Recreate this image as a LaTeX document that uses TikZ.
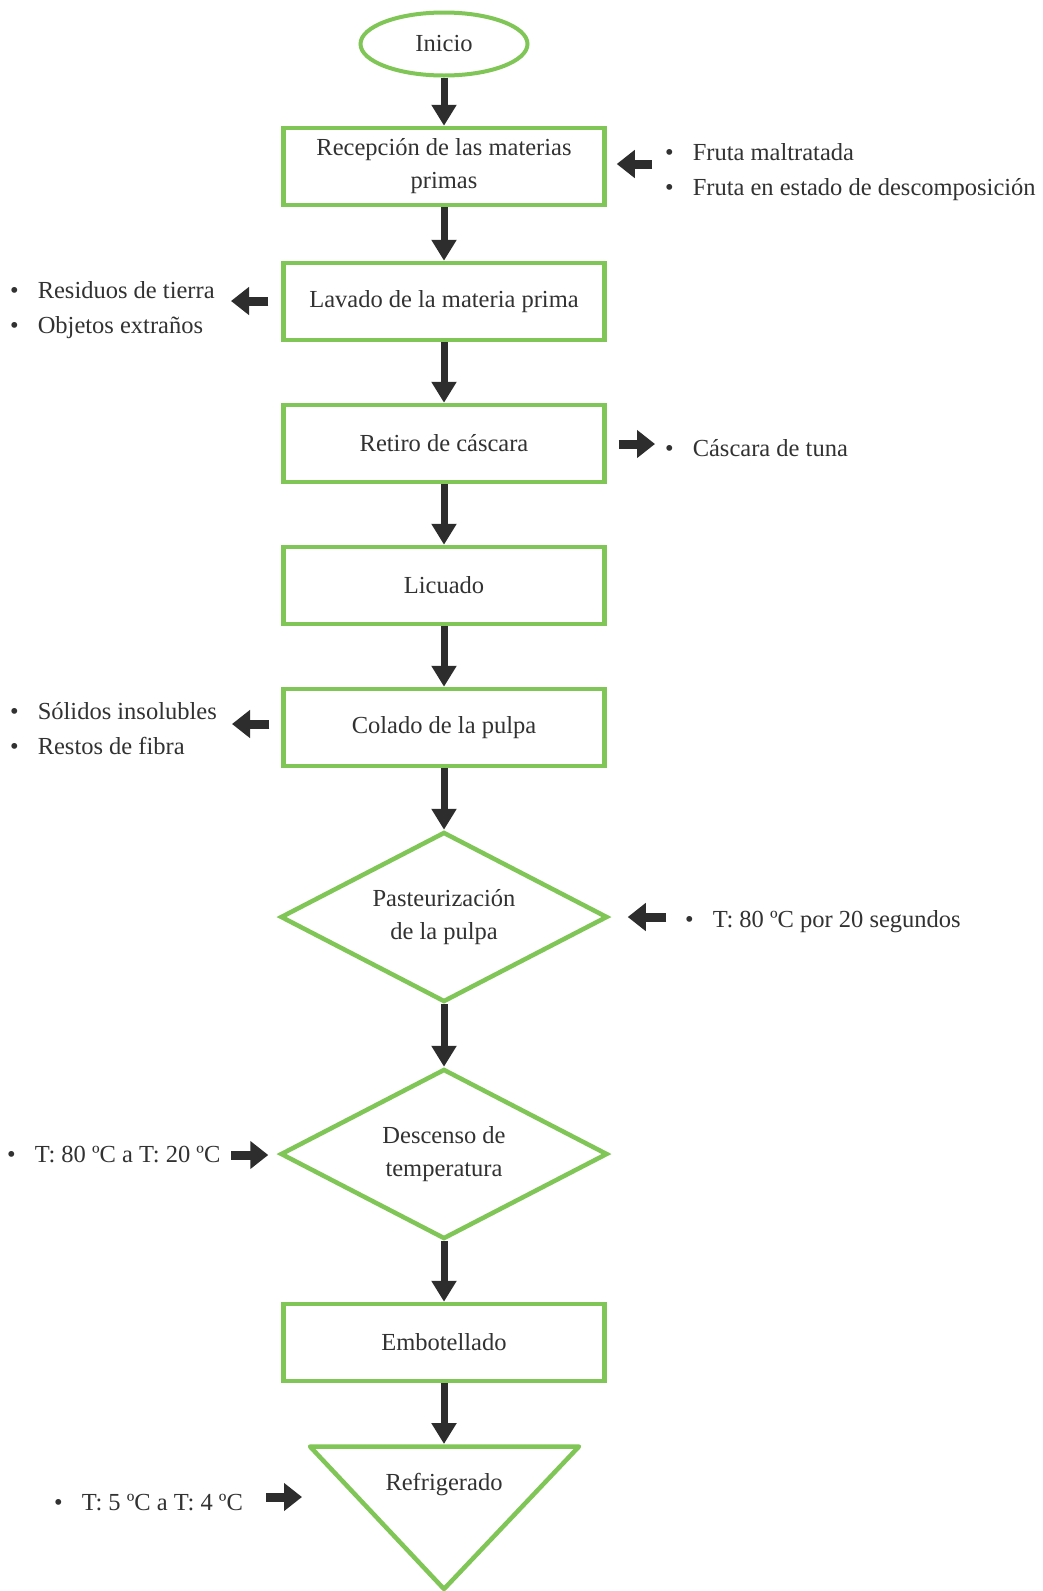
\documentclass[tikz,border=0pt]{standalone}
\usepackage{fontspec}
\setmainfont{Liberation Serif}
\newfontfamily\tms{Liberation Serif}
\usetikzlibrary{shapes.geometric,arrows.meta}
\definecolor{gr}{RGB}{128,198,86}
\definecolor{ink}{RGB}{45,45,45}
\definecolor{txt}{RGB}{50,50,50}
\tikzset{
  box/.style={draw=gr,line width=4.5pt,rectangle,minimum width=321pt,minimum height=77pt,inner sep=0pt,align=center,text=txt,font=\tms\fontsize{24.5}{33}\selectfont},
  dia/.style={draw=gr,line width=4.5pt,diamond,aspect=1.92,minimum width=327pt,minimum height=170pt,inner sep=0pt,align=center,text=txt,font=\tms\fontsize{24.5}{33}\selectfont},
  lbl/.style={inner sep=0pt,align=left,text=txt,font=\tms\fontsize{24.5}{35}\selectfont},
  varrow/.style={draw=ink,line width=7pt,-{Triangle[width=24pt,length=21pt]}},
  sarrow/.style={draw=ink,line width=9pt,-{Triangle[width=27pt,length=18pt]}}
}
\newcommand{\bul}{•\hspace{19pt}}
\begin{document}
\begin{tikzpicture}[x=1pt,y=-1pt]
\useasboundingbox[fill=white] (0,0) rectangle (1042,1591);
% main flow
\node[draw=gr,line width=4pt,ellipse,minimum width=167pt,minimum height=63pt,inner sep=0pt,text=txt,font=\tms\fontsize{24.5}{33}\selectfont] (ini) at (444,44) {Inicio};
\node[box] (rec) at (444,166.5) {\rule{0pt}{4pt}Recepción de las materias\\primas};
\node[box] (lav) at (444,301.5) {Lavado de la materia prima};
\node[box] (ret) at (444,443.5) {Retiro de cáscara};
\node[box] (lic) at (444,585.5) {Licuado};
\node[box] (col) at (444,727.5) {Colado de la pulpa};
\node[dia] (pas) at (444,917) {Pasteurización\\de la pulpa};
\node[dia] (des) at (444,1154) {Descenso de\\temperatura};
\node[box] (emb) at (444,1342.5) {Embotellado};
\draw[draw=gr,line width=4.5pt,line join=round] (310,1446.5) -- (579,1446.5) -- (444,1589) -- cycle;
\coordinate (tritop) at (444,1444);
\node[inner sep=0pt,text=txt,font=\tms\fontsize{24.5}{33}\selectfont] (ref) at (444,1484) {Refrigerado};
% vertical arrows
\draw[varrow] (ini.south) -- (rec.north);
\draw[varrow] (rec.south) -- (lav.north);
\draw[varrow] (lav.south) -- (ret.north);
\draw[varrow] (ret.south) -- (lic.north);
\draw[varrow] (lic.south) -- (col.north);
\draw[varrow] (col.south) -- (pas.north);
\draw[varrow] (pas.south) -- (des.north);
\draw[varrow] (des.south) -- (emb.north);
\draw[varrow] (emb.south) -- (tritop);
% side labels
\node[lbl,anchor=west] (l1) at (665,172) {\bul Fruta maltratada\\\bul Fruta en estado de descomposición};
\node[lbl,anchor=west] (l2) at (10,310) {\bul Residuos de tierra\\\bul Objetos extraños};
\node[lbl,anchor=west] (l3) at (665,448) {\bul Cáscara de tuna};
\node[lbl,anchor=west] (l4) at (10,729) {\bul Sólidos insolubles\\\bul Restos de fibra};
\node[lbl,anchor=west] (l5) at (685,922) {\bul T: 80 ºC por 20 segundos};
\node[lbl,anchor=west] (l6) at (7,1155) {\bul T: 80 ºC a T: 20 ºC};
\node[lbl,anchor=west] (l7) at (54,1503) {\bul T: 5 ºC a T: 4 ºC};
% side arrows
\coordinate (a1) at (652,164);
\draw[sarrow,shorten >=10pt] (a1) -- (a1 -| rec.east);
\coordinate (a2) at (231,301);
\draw[sarrow,shorten <=13pt] (a2 -| lav.west) -- (a2);
\coordinate (a3) at (655,444);
\draw[sarrow,shorten <=12pt] (a3 -| ret.east) -- (a3);
\coordinate (a4) at (232,724);
\draw[sarrow,shorten <=12pt] (a4 -| col.west) -- (a4);
\coordinate (a5) at (666,917);
\draw[sarrow,shorten >=18pt] (a5) -- (pas.east);
\coordinate (a6) at (231,1155);
\draw[sarrow,shorten >=10pt] (a6) -- (a6 -| des.west);
\coordinate (a7s) at (266,1497);
\coordinate (a7e) at (302,1497);
\draw[sarrow] (a7s) -- (a7e);
\end{tikzpicture}
\end{document}
